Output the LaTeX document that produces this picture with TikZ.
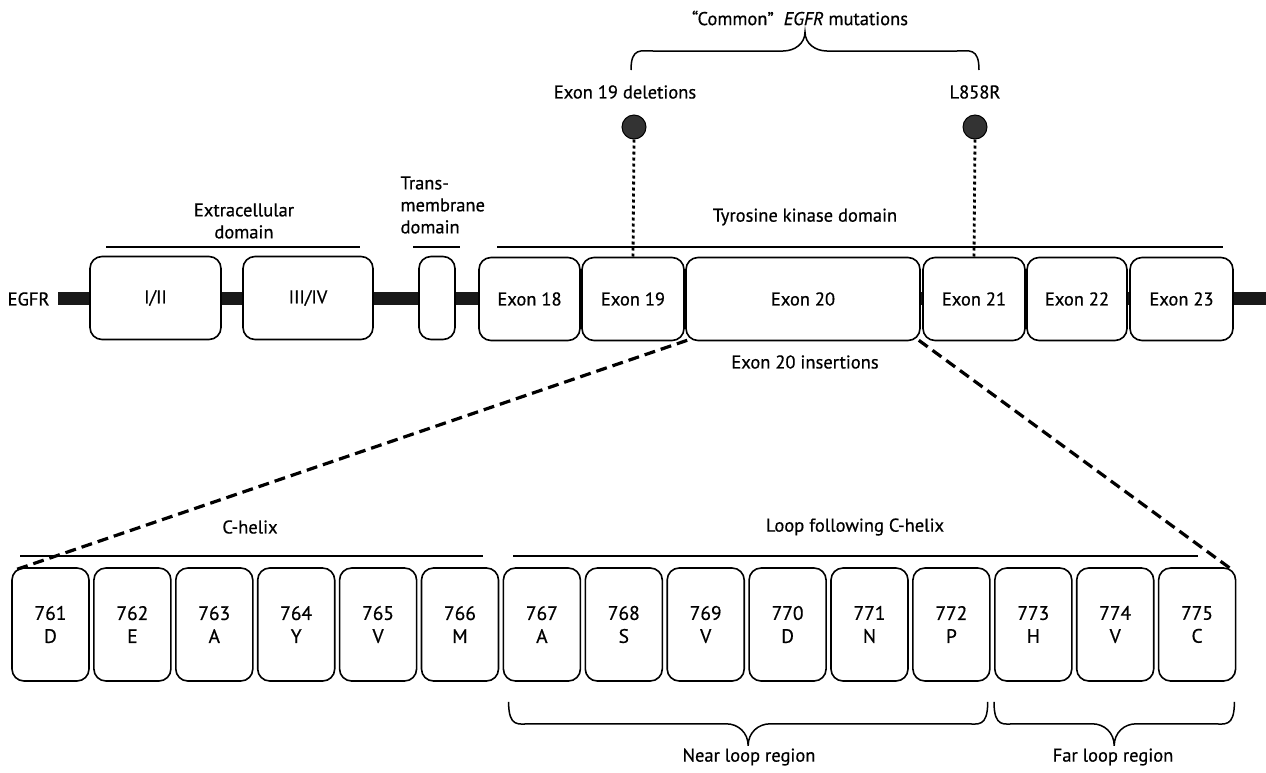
\documentclass[tikz,border=0pt]{standalone}
\usepackage{fontspec}
\setmainfont{PT Sans}[FakeBold=0.6]
\usepackage{tikz}
\usetikzlibrary{calc}

% curly brace between two points, #3 = depth (negative = upwards)
\newcommand{\regionbrace}[3]{%
  \path (#1) coordinate (rbL) (#2) coordinate (rbR);
  \path ($(rbL)!0.5!(rbR)$) coordinate (rbM);
  \draw[bracestyle] (rbL) .. controls +(0,{0.6*(#3)}) and +(-12,0) .. ($(rbL)+(22,{0.5*(#3)})$)
    -- ($(rbM)+(-22,{0.5*(#3)})$) .. controls +(12,0) and +(0,{-0.3*(#3)}) .. ($(rbM)+(0,#3)$)
    .. controls +(0,{-0.3*(#3)}) and +(-12,0) .. ($(rbM)+(22,{0.5*(#3)})$)
    -- ($(rbR)+(-22,{0.5*(#3)})$) .. controls +(12,0) and +(0,{0.6*(#3)}) .. (rbR);
}

\begin{document}
\begin{tikzpicture}[
    x=1pt, y=-1pt,
    every node/.style={font=\fontsize{18.5}{22}\selectfont},
    domainbox/.style={draw, line width=1.6pt, rounded corners=12pt, fill=white, minimum height=83pt, inner sep=0pt},
    resbox/.style={draw, line width=1.6pt, rounded corners=12pt, fill=white, minimum width=77pt, minimum height=113pt, inner sep=0pt, align=center, font=\fontsize{19.5}{23}\selectfont},
    spanline/.style={line width=1.4pt},
    zoomline/.style={line width=3.2pt, dash pattern=on 11pt off 6pt},
    siteline/.style={line width=2.8pt, dash pattern=on 3pt off 3pt},
    sitedot/.style={circle, draw=black, line width=1pt, fill=black!80, minimum size=24pt, inner sep=0pt},
    bracestyle/.style={line width=1.5pt}
]
\useasboundingbox (0,0) rectangle (1266,772);

% protein backbone
\node[anchor=east] (egfr) at (53,299) {EGFR};
\draw[line width=13pt, black!90] (58,298) -- (1266,298);

% extracellular and transmembrane domains
\node[domainbox, minimum width=131pt] (dom12) at (155.5,298) {I/II};
\node[domainbox, minimum width=130pt] (dom34) at (308,298) {III/IV};
\node[domainbox, minimum width=36pt] (tm) at (437,298) {};

\node[align=center] (extra) at (244,221) {Extracellular\\domain};
\draw[spanline] (106,247) -- (360,247);
\node[align=left, anchor=west] (tmlbl) at (397,205) {Trans-\\membrane\\domain};
\draw[spanline] (413,247) -- (460,247);

% kinase domain exons
\foreach \n/\x/\w in {18/529.5/101, 19/633/102, 20/803/234, 21/974/102, 22/1077/100, 23/1181.5/103} {
    \node[domainbox, minimum width=\w pt] (ex\n) at (\x,299) {Exon \n};
}
\node (tkd) at (805,217) {Tyrosine kinase domain};
\draw[spanline] (497,247) -- (1223,247);
\node (ins20) at (805,362) {Exon 20 insertions};

% common mutations
\node[sitedot] (dot19) at (634,127) {};
\node[sitedot] (dot21) at (975,127) {};
\draw[siteline] (dot19.south) -- (ex19.north);
\draw[siteline] (dot21.south) -- (ex21.north);
\node (del19) at (625,92) {Exon 19 deletions};
\node (l858r) at (975,92) {L858R};
\regionbrace{$(dot19)+(-3,-57)$}{$(dot21)+(4,-57)$}{-38}
\node (common) at (800,18) {“Common”\hspace{10pt}\textit{EGFR} mutations};

% exon 20 residues
\foreach \num/\aa [count=\i from 0] in {761/D, 762/E, 763/A, 764/Y, 765/V, 766/M, 767/A, 768/S,
        769/V, 770/D, 771/N, 772/P, 773/H, 774/V, 775/C} {
    \node[resbox] (b\num) at (50.5+\i*81.9,624.5) {\num\\\aa};
}
\node (chelix) at (250,527) {C-helix};
\draw[spanline] (20,556) -- (483,556);
\node (loop) at (855,527) {Loop following C-helix};
\draw[spanline] (513,556) -- (1198,556);

\draw[zoomline] ([shift={(2,-1)}]ex20.south west) -- ([shift={(6,2)}]b761.north west);
\draw[zoomline] ([shift={(-2,-1)}]ex20.south east) -- ([shift={(-5,2)}]b775.north east);

% loop regions
\regionbrace{$(b767.south west)+(6,20)$}{$(b772.south east)+(-3,20)$}{44}
\regionbrace{$(b773.south west)+(0,20)$}{$(b775.south east)+(-2,20)$}{44}
\node (near) at (749,757) {Near loop region};
\node (far) at (1113,757) {Far loop region};
\end{tikzpicture}
\end{document}
